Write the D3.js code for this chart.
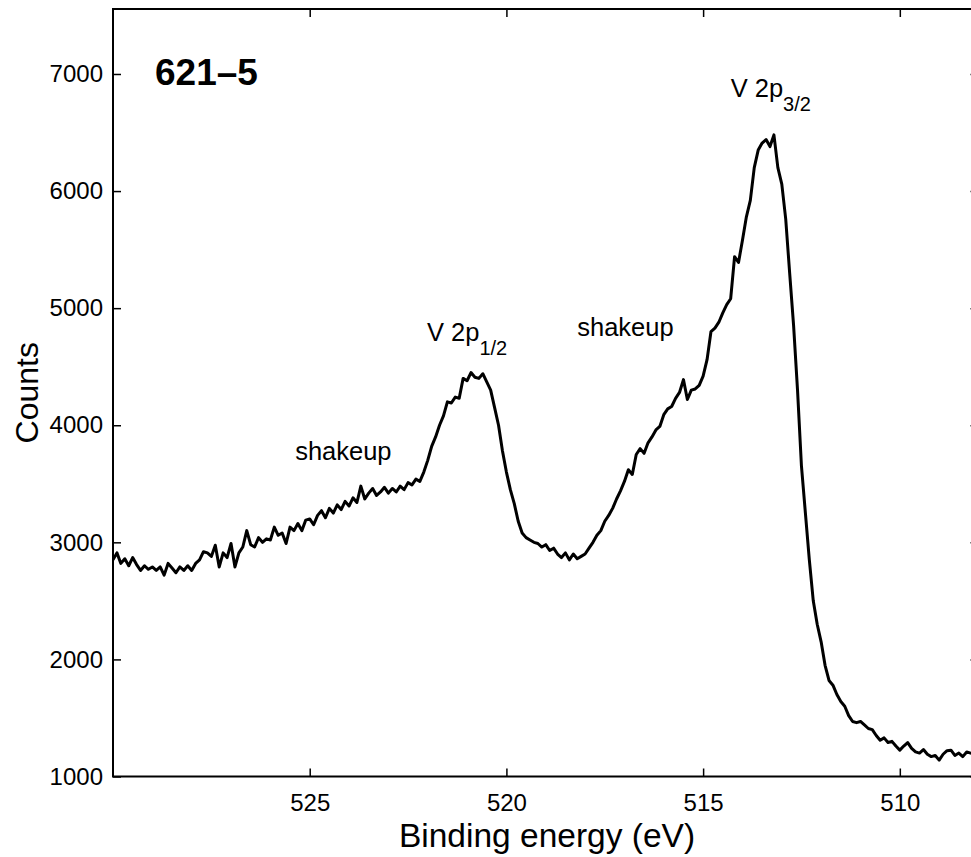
<!DOCTYPE html>
<html><head><meta charset="utf-8">
<script src="https://cdn.jsdelivr.net/npm/d3@7"></script>
<style>
body{margin:0;background:#fff;}
text{font-family:"Liberation Sans",Arial,Helvetica,sans-serif;fill:#000;}
</style></head>
<body><svg id="chart" width="971" height="857"></svg>
<script>
const energy = [
530.0,529.9,529.8,529.7,529.6,529.5,529.4,529.3,529.2,529.1,
529.0,528.9,528.8,528.7,528.6,528.5,528.4,528.3,528.2,528.1,
528.0,527.9,527.8,527.7,527.6,527.5,527.4,527.3,527.2,527.1,
527.0,526.9,526.8,526.7,526.6,526.5,526.4,526.3,526.2,526.1,
526.0,525.9,525.8,525.7,525.6,525.5,525.4,525.3,525.2,525.1,
525.0,524.9,524.8,524.7,524.6,524.5,524.4,524.3,524.2,524.1,
524.0,523.9,523.8,523.7,523.6,523.5,523.4,523.3,523.2,523.1,
523.0,522.9,522.8,522.7,522.6,522.5,522.4,522.3,522.2,522.1,
522.0,521.9,521.8,521.7,521.6,521.5,521.4,521.3,521.2,521.1,
521.0,520.9,520.8,520.7,520.6,520.5,520.4,520.3,520.2,520.1,
520.0,519.9,519.8,519.7,519.6,519.5,519.4,519.3,519.2,519.1,
519.0,518.9,518.8,518.7,518.6,518.5,518.4,518.3,518.2,518.1,
518.0,517.9,517.8,517.7,517.6,517.5,517.4,517.3,517.2,517.1,
517.0,516.9,516.8,516.7,516.6,516.5,516.4,516.3,516.2,516.1,
516.0,515.9,515.8,515.7,515.6,515.5,515.4,515.3,515.2,515.1,
515.0,514.9,514.8,514.7,514.6,514.5,514.4,514.3,514.2,514.1,
514.0,513.9,513.8,513.7,513.6,513.5,513.4,513.3,513.2,513.1,
513.0,512.9,512.8,512.7,512.6,512.5,512.4,512.3,512.2,512.1,
512.0,511.9,511.8,511.7,511.6,511.5,511.4,511.3,511.2,511.1,
511.0,510.9,510.8,510.7,510.6,510.5,510.4,510.3,510.2,510.1,
510.0,509.9,509.8,509.7,509.6,509.5,509.4,509.3,509.2,509.1,
509.0,508.9,508.8,508.7,508.6,508.5,508.4,508.3,508.2,508.1,
508.0];
const counts = [
2850,2910,2820,2860,2800,2870,2810,2760,2800,2770,
2790,2760,2790,2720,2820,2780,2740,2790,2760,2800,
2760,2820,2850,2920,2910,2880,2975,2790,2910,2870,
2990,2790,2910,2960,3100,2980,2960,3040,3000,3030,
3020,3130,3060,3080,2990,3130,3100,3160,3100,3190,
3200,3150,3230,3270,3210,3290,3250,3320,3280,3350,
3310,3380,3340,3480,3370,3420,3460,3400,3430,3470,
3420,3460,3430,3480,3450,3510,3490,3540,3520,3600,
3700,3820,3900,4000,4080,4200,4190,4240,4230,4400,
4380,4450,4410,4400,4440,4370,4300,4150,4000,3780,
3600,3450,3330,3180,3080,3040,3020,3000,2990,2960,
2980,2930,2950,2900,2870,2910,2850,2900,2860,2880,
2900,2950,3000,3060,3100,3180,3230,3290,3370,3440,
3520,3620,3580,3750,3800,3760,3850,3900,3960,3990,
4090,4140,4160,4230,4280,4390,4220,4300,4310,4340,
4420,4560,4800,4830,4880,4960,5030,5080,5440,5390,
5580,5780,5920,6200,6350,6410,6440,6380,6480,6200,
6060,5760,5300,4850,4300,3650,3250,2850,2500,2300,
2150,1950,1820,1780,1700,1640,1600,1520,1470,1460,
1470,1440,1410,1400,1350,1310,1330,1290,1300,1260,
1225,1260,1290,1240,1210,1200,1230,1190,1170,1180,
1140,1190,1220,1225,1180,1200,1170,1210,1200,1190,
1210];
const xTicks = [525, 520, 515, 510];
const yTicks = [1000, 2000, 3000, 4000, 5000, 6000, 7000];
const xDomain = [530, 508];
const yDomain = [1000, 7555];
const sampleLabel = "621–5";
const xLabel = "Binding energy (eV)";
const yLabel = "Counts";
const peakLabels = [
  {main: "V 2p", sub: "3/2", e: 514.3, c: 6800},
  {main: "V 2p", sub: "1/2", e: 522.02, c: 4720},
  {main: "shakeup", sub: "", e: 518.2, c: 4760},
  {main: "shakeup", sub: "", e: 525.37, c: 3700}
];

const svg = d3.select("#chart");
const L = 113, R = 978.5, T = 9, B = 776.5;
const x = d3.scaleLinear().domain(xDomain).range([L, R]);
const y = d3.scaleLinear().domain(yDomain).range([B, T]);

svg.append("defs").append("clipPath").attr("id","clip")
  .append("rect").attr("x",L).attr("y",T).attr("width",R-L).attr("height",B-T);

const tl = 8;
const fsTick = 24;
const gb = svg.append("g").attr("transform",`translate(0,${B})`)
  .call(d3.axisBottom(x).tickValues(xTicks).tickSize(-tl).tickPadding(10).tickFormat(d3.format("d")));
const gt = svg.append("g").attr("transform",`translate(0,${T})`)
  .call(d3.axisTop(x).tickValues(xTicks).tickSize(-tl).tickFormat(""));
const gl = svg.append("g").attr("transform",`translate(${L},0)`)
  .call(d3.axisLeft(y).tickValues(yTicks).tickSize(-tl).tickPadding(10).tickFormat(d3.format("d")));
const gr = svg.append("g").attr("transform",`translate(${R},0)`)
  .call(d3.axisRight(y).tickValues(yTicks).tickSize(-tl).tickFormat(""));
[gb,gt,gl,gr].forEach(g=>{
  g.select(".domain").remove();
  g.selectAll("line").attr("stroke","#000").attr("stroke-width",1.5);
  g.selectAll("text").attr("font-size",fsTick).attr("font-family","Liberation Sans, Arial, sans-serif").attr("fill","#000");
});
gb.selectAll("text").attr("dy","1.0em");
svg.append("rect").attr("x",L).attr("y",T).attr("width",R-L).attr("height",B-T)
  .attr("fill","none").attr("stroke","#000").attr("stroke-width",2);

const line = d3.line().x((d,i)=>x(energy[i])).y(d=>y(d));
svg.append("path").datum(counts).attr("clip-path","url(#clip)")
  .attr("d",line).attr("fill","none").attr("stroke","#000").attr("stroke-width",3)
  .attr("stroke-linejoin","round");

svg.append("text").attr("x",547).attr("y",847).attr("text-anchor","middle")
  .attr("font-size",33.5).text(xLabel);
svg.append("text").attr("transform",`translate(38,${(T+B)/2}) rotate(-90)`).attr("text-anchor","middle")
  .attr("font-size",32).text(yLabel);
svg.append("text").attr("x",155).attr("y",85).attr("font-size",37).attr("font-weight","bold").text(sampleLabel);

peakLabels.forEach(p=>{
  const t = svg.append("text").attr("x",x(p.e)).attr("y",y(p.c)).attr("font-size",25.5);
  t.append("tspan").text(p.main);
  if (p.sub) t.append("tspan").attr("font-size",20).attr("dy",14).text(p.sub);
});
</script></body></html>
